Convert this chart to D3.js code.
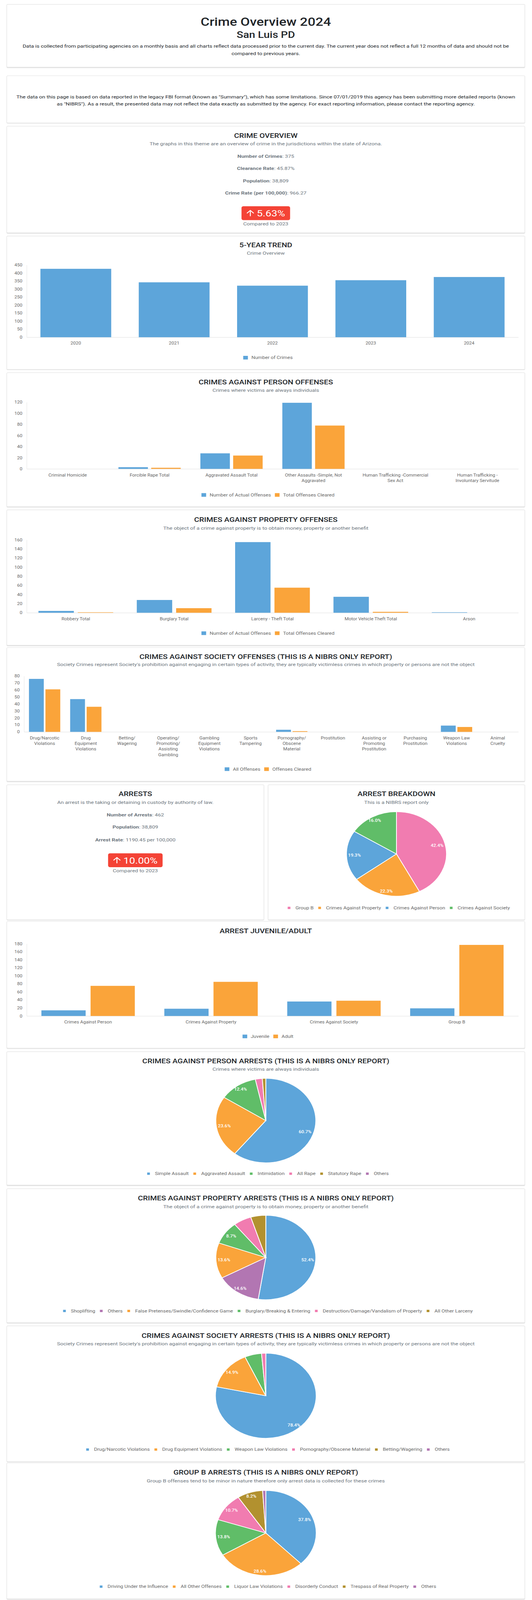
<!DOCTYPE html>
<html>
<head>
<meta charset="utf-8">
<title>Crime Overview 2024 - San Luis PD</title>
<script src="https://cdn.jsdelivr.net/npm/d3@7"></script>
<style>
  html, body { margin: 0; background: #fff; font-family: Roboto, "Open Sans", sans-serif; overflow: hidden; }
  #page { position: relative; width: 1362px; height: 4849px; overflow: hidden; transform-origin: 0 0; }
  .card { position: absolute; background: #fff; border: 1px solid #e2e2e2; border-radius: 3px;
          box-shadow: 0 1px 2px rgba(0,0,0,0.14); box-sizing: border-box; }
  svg { position: absolute; left: 0; top: 0; font-family: Roboto, sans-serif; }
</style>
</head>
<body>
<div id="page"></div>
<script>
// ---------- data ----------
const trendYears = ["2020", "2021", "2022", "2023", "2024"];
const trendCrimes = [426, 342, 321, 355, 375];

const clearanceRate = 45.87;
const population = 38809;

const personOffenseLabels = [
  ["Criminal Homicide"], ["Forcible Rape Total"], ["Aggravated Assault Total"],
  ["Other Assaults -Simple, Not", "Aggravated"], ["Human Trafficking -Commercial", "Sex Act"],
  ["Human Trafficking -", "Involuntary Servitude"]
];
const personActual = [0, 3, 28, 119, 0, 0];
const personCleared = [0, 2, 24, 78, 0, 0];

const propertyOffenseLabels = [
  ["Robbery Total"], ["Burglary Total"], ["Larceny - Theft Total"], ["Motor Vehicle Theft Total"], ["Arson"]
];
const propertyActual = [4, 28, 155, 35, 1];
const propertyCleared = [1, 10, 55, 2, 0];

const societyOffenseLabels = [
  ["Drug/Narcotic", "Violations"], ["Drug", "Equipment", "Violations"], ["Betting/", "Wagering"],
  ["Operating/", "Promoting/", "Assisting", "Gambling"], ["Gambling", "Equipment", "Violations"],
  ["Sports", "Tampering"], ["Pornography/", "Obscene", "Material"], ["Prostitution"],
  ["Assisting or", "Promoting", "Prostitution"], ["Purchasing", "Prostitution"],
  ["Weapon Law", "Violations"], ["Animal", "Cruelty"]
];
const societyAll = [76, 47, 0, 0, 0, 0, 3, 0, 0, 0, 9, 0];
const societyCleared = [61, 36, 0, 0, 0, 0, 1, 0, 0, 0, 7, 0];

const arrestsPrevYear = 420;
const breakdownLabels = ["Group B", "Crimes Against Property", "Crimes Against Person", "Crimes Against Society"];
const breakdownValues = [196, 103, 89, 74];

const ageGroups = ["Crimes Against Person", "Crimes Against Property", "Crimes Against Society", "Group B"];
const juvenileArrests = [14, 18, 36, 19];
const adultArrests = [75, 85, 38, 177];

const personArrestLabels = ["Simple Assault", "Aggravated Assault", "Intimidation", "All Rape", "Statutory Rape", "Others"];
const personArrestValues = [54, 21, 11, 2, 1, 0];

const propertyArrestLabels = ["Shoplifting", "Others", "False Pretenses/Swindle/Confidence Game",
  "Burglary/Breaking & Entering", "Destruction/Damage/Vandalism of Property", "All Other Larceny"];
const propertyArrestValues = [54, 15, 14, 9, 6, 5];

const societyArrestLabels = ["Drug/Narcotic Violations", "Drug Equipment Violations", "Weapon Law Violations",
  "Pornography/Obscene Material", "Betting/Wagering", "Others"];
const societyArrestValues = [58, 11, 4, 1, 0, 0];

const groupBLabels = ["Driving Under the Influence", "All Other Offenses", "Liquor Law Violations",
  "Disorderly Conduct", "Trespass of Real Property", "Others"];
const groupBValues = [74, 56, 27, 21, 16, 2];

// ---------- colours ----------
const BLUE = "#5DA5DA", ORANGE = "#FAA43A", GREEN = "#60BD68",
      PINK = "#F17CB0", OLIVE = "#B2912F", PURPLE = "#B276B2";
const TITLE = "#212529", MUTED = "#6c757d", AXIS = "#666";

// ---------- page & cards ----------
const PAGE_H = 4849;
const page = d3.select("#page");
// the browser window may be shorter than the full page; squeeze vertically so the whole page is photographed
const fitY = Math.min(1, window.innerHeight / PAGE_H);
page.style("transform", `scale(1, ${fitY})`);

const cards = [
  { top: 13, h: 191 }, { top: 229, h: 144 }, { top: 382, h: 324 }, { top: 715, h: 405 },
  { top: 1129, h: 407 }, { top: 1545, h: 411 }, { top: 1962, h: 406 },
  { top: 2378, h: 410, left: 17, w: 659 }, { top: 2378, h: 410, left: 686, w: 658 },
  { top: 2792, h: 385 }, { top: 3187, h: 405 }, { top: 3602, h: 407 }, { top: 4018, h: 412 },
  { top: 4433, h: 413 }
];
page.selectAll("div.card").data(cards).join("div")
  .attr("class", "card")
  .style("left", d => (d.left || 17) + "px")
  .style("width", d => (d.w || 1327) + "px")
  .style("top", d => d.top + "px")
  .style("height", d => d.h + "px");

const svg = page.append("svg").attr("width", 1362).attr("height", PAGE_H);

const measurer = svg.append("text").attr("x", 10).attr("y", 10).attr("opacity", 0);
function textWidth(str, size, weight) {
  measurer.attr("font-size", size).attr("font-weight", weight || 400).text(str);
  return measurer.node().getComputedTextLength();
}

function line(cx, y, str, size, weight, color) {
  return svg.append("text")
    .attr("x", cx).attr("y", y)
    .attr("text-anchor", "middle").attr("dominant-baseline", "central")
    .attr("font-size", size).attr("font-weight", weight).attr("fill", color)
    .text(str);
}

function heading(cx, yTitle, title, ySub, sub) {
  line(cx, yTitle, title, 20, 500, TITLE);
  if (sub) line(cx, ySub, sub, 14, 400, MUTED);
}

function statLine(cx, y, label, value) {
  const t = svg.append("text")
    .attr("x", cx).attr("y", y)
    .attr("text-anchor", "middle").attr("dominant-baseline", "central")
    .attr("font-size", 14).attr("fill", MUTED);
  t.append("tspan").attr("font-weight", 700).text(label);
  t.append("tspan").text(": " + value);
}

function badge(cx, cy, change) {
  const txt = (change * 100).toFixed(2) + "%";
  const tw = textWidth(txt, 27, 400);
  const bw = 13 + 20 + 6 + tw + 13;
  const x0 = cx - bw / 2;
  svg.append("rect").attr("x", x0).attr("y", cy - 21).attr("width", bw).attr("height", 42)
    .attr("rx", 5).attr("fill", "#f44336");
  const s = 1.2;
  svg.append("path")
    .attr("d", "M4 12l1.41 1.41L11 7.83V20h2V7.83l5.58 5.59L20 12l-8-8-8 8z")
    .attr("fill", "#fff")
    .attr("transform", `translate(${x0 + 13 - 4 * s},${cy - 10 - 4 * s}) scale(${s})`);
  svg.append("text").attr("x", x0 + 39).attr("y", cy + 1)
    .attr("dominant-baseline", "central").attr("font-size", 27).attr("fill", "#fff").text(txt);
  line(cx, cy + 32, "Compared to " + trendYears[3], 14, 400, MUTED);
}

function legend(names, colors, cx, cy, st) {
  const widths = names.map(n => textWidth(n, 13));
  const itemW = widths.map(w => st.textOff + w);
  const total = d3.sum(itemW) + st.gap * (names.length - 1);
  let xPos = cx - total / 2;
  const g = svg.append("g");
  names.forEach((n, i) => {
    g.append("rect").attr("x", xPos).attr("y", cy - st.bh / 2)
      .attr("width", st.bw).attr("height", st.bh).attr("fill", colors[i]);
    g.append("text").attr("x", xPos + st.textOff).attr("y", cy)
      .attr("dominant-baseline", "central").attr("font-size", 13).attr("fill", AXIS).text(n);
    xPos += itemW[i] + st.gap;
  });
}

// Grouped bar chart in the style of the source dashboard
function barChart(o) {
  const right = 1327;
  const y = d3.scaleLinear()
    .domain([0, d3.max(o.series, s => d3.max(s))])
    .nice(8)
    .range([o.y0, o.yTop]);
  const ticks = y.ticks(8);
  const labelW = d3.max(ticks, t => textWidth(String(t), 12));
  const left = 37 + labelW + 11;

  const x = d3.scaleBand().domain(d3.range(o.labels.length)).range([left, right]);
  const inner = d3.scaleBand().domain(d3.range(o.series.length))
    .range([0, x.bandwidth() * 0.8]).paddingInner(0.1).paddingOuter(0.05);

  const g = svg.append("g");

  g.append("g").attr("transform", `translate(${left},0)`)
    .call(d3.axisLeft(y).ticks(8).tickSize(0).tickSizeOuter(0).tickPadding(11))
    .attr("font-family", null).attr("font-size", 12)
    .call(a => a.select(".domain").attr("stroke", "#e3e3e3"))
    .call(a => a.selectAll("text").attr("fill", AXIS));

  g.append("g").attr("transform", `translate(0,${o.y0})`)
    .call(d3.axisBottom(x).tickSize(0).tickSizeOuter(0))
    .call(a => a.select(".domain").attr("stroke", "#dcdcdc"))
    .call(a => a.selectAll(".tick").remove());

  const labs = g.append("g").selectAll("text").data(o.labels).join("text")
    .attr("x", (d, i) => x(i) + x.bandwidth() / 2)
    .attr("y", o.y0 + 18.5)
    .attr("text-anchor", "middle").attr("font-size", 12).attr("fill", AXIS);
  labs.selectAll("tspan").data(d => d).join("tspan")
    .attr("x", function () { return this.parentNode.getAttribute("x"); })
    .attr("dy", (d, i) => i === 0 ? "0.35em" : 17)
    .text(d => d);

  o.series.forEach((s, si) => {
    g.append("g").selectAll("rect").data(s).join("rect")
      .attr("x", (d, i) => x(i) + x.bandwidth() * 0.1 + inner(si))
      .attr("width", inner.bandwidth())
      .attr("y", d => y(d))
      .attr("height", d => y(0) - y(d))
      .attr("fill", o.colors[si]);
  });

  const maxLines = d3.max(o.labels, d => d.length);
  legend(o.names, o.colors, 686, o.y0 + 62 + 17 * (maxLines - 1),
    { bw: 12, bh: 11, textOff: 21, gap: 10 });
}

function pieChart(o) {
  const total = d3.sum(o.values);
  const arcs = d3.pie().sort(null).value(d => d)(o.values);
  const arc = d3.arc().innerRadius(0).outerRadius(o.r);
  const g = svg.append("g").attr("transform", `translate(${o.cx},${o.cy})`);

  g.selectAll("path").data(arcs.filter(d => d.value > 0)).join("path")
    .attr("d", arc)
    .attr("fill", d => o.colors[d.index])
    .attr("stroke", "#fff").attr("stroke-width", 2);

  g.selectAll("text").data(arcs.filter(d => d.value / total >= 0.07)).join("text")
    .attr("text-anchor", "middle").attr("dominant-baseline", "central")
    .attr("font-size", 12).attr("font-weight", 500).attr("fill", "#fff")
    .each(function (d) {
      const a = (d.startAngle + d.endAngle) / 2;
      const dx = Math.sin(a), dy = -Math.cos(a);
      const label = (d.value / total * 100).toFixed(1) + "%";
      const w = textWidth(label, 12, 500) + 8, h = 22;
      const t = Math.min(w / 2 / Math.max(Math.abs(dx), 1e-6), h / 2 / Math.max(Math.abs(dy), 1e-6));
      const dist = o.r - t;
      d3.select(this).attr("x", dx * dist).attr("y", dy * dist).text(label);
    });

  legend(o.labels, o.colors, o.legendCx, o.legendY, { bw: 7, bh: 7, textOff: 20, gap: 12 });
}

const CX = 680.5;

// ---------- header ----------
line(CX, 66, "Crime Overview 2024", 35, 500, TITLE);
line(CX, 105, "San Luis PD", 28, 500, TITLE);
line(CX, 140, "Data is collected from participating agencies on a monthly basis and all charts reflect data processed prior to the current day. The current year does not reflect a full 12 months of data and should not be", 14, 400, TITLE);
line(CX, 162, "compared to previous years.", 14, 400, TITLE);

line(CX, 294, "The data on this page is based on data reported in the legacy FBI format (known as \"Summary\"), which has some limitations. Since 07/01/2019 this agency has been submitting more detailed reports (known", 14, 400, TITLE);
line(CX, 315, "as \"NIBRS\"). As a result, the presented data may not reflect the data exactly as submitted by the agency. For exact reporting information, please contact the reporting agency.", 14, 400, TITLE);

// ---------- crime overview ----------
const crimes = trendCrimes[4];
heading(CX, 412, "CRIME OVERVIEW", 436, "The graphs in this theme are an overview of crime in the jurisdictions within the state of Arizona.");
statLine(CX, 473, "Number of Crimes", crimes);
statLine(CX, 510, "Clearance Rate", clearanceRate.toFixed(2) + "%");
statLine(CX, 547, "Population", d3.format(",")(population));
statLine(CX, 584, "Crime Rate (per 100,000)", (crimes / population * 1e5).toFixed(2));
badge(CX, 646, trendCrimes[4] / trendCrimes[3] - 1);

// ---------- 5-year trend ----------
heading(CX, 743, "5-YEAR TREND", 767, "Crime Overview");
barChart({ labels: trendYears.map(d => [d]), series: [trendCrimes], names: ["Number of Crimes"],
  colors: [BLUE], y0: 1022, yTop: 803 });

// ---------- person offenses ----------
heading(CX, 1159, "CRIMES AGAINST PERSON OFFENSES", 1183, "Crimes where victims are always individuals");
barChart({ labels: personOffenseLabels, series: [personActual, personCleared],
  names: ["Number of Actual Offenses", "Total Offenses Cleared"], colors: [BLUE, ORANGE], y0: 1421, yTop: 1219 });

// ---------- property offenses ----------
heading(CX, 1575, "CRIMES AGAINST PROPERTY OFFENSES", 1600, "The object of a crime against property is to obtain money, property or another benefit");
barChart({ labels: propertyOffenseLabels, series: [propertyActual, propertyCleared],
  names: ["Number of Actual Offenses", "Total Offenses Cleared"], colors: [BLUE, ORANGE], y0: 1857, yTop: 1636 });

// ---------- society offenses ----------
heading(CX, 1991, "CRIMES AGAINST SOCIETY OFFENSES (THIS IS A NIBRS ONLY REPORT)", 2014,
  "Society Crimes represent Society's prohibition against engaging in certain types of activity, they are typically victimless crimes in which property or persons are not the object");
barChart({ labels: societyOffenseLabels, series: [societyAll, societyCleared],
  names: ["All Offenses", "Offenses Cleared"], colors: [BLUE, ORANGE], y0: 2218, yTop: 2049 });

// ---------- arrests ----------
const arrests = d3.sum(breakdownValues);
const AX = 346.5, BX = 1015;
heading(AX, 2406, "ARRESTS", 2432, "An arrest is the taking or detaining in custody by authority of law.");
statLine(AX, 2469, "Number of Arrests", arrests);
statLine(AX, 2506, "Population", d3.format(",")(population));
statLine(AX, 2544, "Arrest Rate", (arrests / population * 1e5).toFixed(2) + " per 100,000");
badge(AX, 2607, arrests / arrestsPrevYear - 1);

heading(BX, 2406, "ARREST BREAKDOWN", 2432, "This is a NIBRS report only");
pieChart({ cx: BX, cy: 2588, r: 128, labels: breakdownLabels, values: breakdownValues,
  colors: [PINK, ORANGE, BLUE, GREEN], legendCx: BX + 6, legendY: 2751.5 });

// ---------- juvenile / adult ----------
heading(CX, 2822, "ARREST JUVENILE/ADULT");
barChart({ labels: ageGroups.map(d => [d]), series: [juvenileArrests, adultArrests],
  names: ["Juvenile", "Adult"], colors: [BLUE, ORANGE], y0: 3079, yTop: 2860 });

// ---------- arrest pies ----------
heading(CX, 3216, "CRIMES AGAINST PERSON ARRESTS (THIS IS A NIBRS ONLY REPORT)", 3240, "Crimes where victims are always individuals");
pieChart({ cx: CX, cy: 3396, r: 128, labels: personArrestLabels, values: personArrestValues,
  colors: [BLUE, ORANGE, GREEN, PINK, OLIVE, PURPLE], legendCx: 686, legendY: 3557 });

heading(CX, 3632, "CRIMES AGAINST PROPERTY ARRESTS (THIS IS A NIBRS ONLY REPORT)", 3657, "The object of a crime against property is to obtain money, property or another benefit");
pieChart({ cx: CX, cy: 3811, r: 128, labels: propertyArrestLabels, values: propertyArrestValues,
  colors: [BLUE, PURPLE, ORANGE, GREEN, PINK, OLIVE], legendCx: 686, legendY: 3973 });

heading(CX, 4048, "CRIMES AGAINST SOCIETY ARRESTS (THIS IS A NIBRS ONLY REPORT)", 4072,
  "Society Crimes represent Society's prohibition against engaging in certain types of activity, they are typically victimless crimes in which property or persons are not the object");
pieChart({ cx: CX, cy: 4230, r: 129, labels: societyArrestLabels, values: societyArrestValues,
  colors: [BLUE, ORANGE, GREEN, PINK, OLIVE, PURPLE], legendCx: 686, legendY: 4393 });

heading(CX, 4463, "GROUP B ARRESTS (THIS IS A NIBRS ONLY REPORT)", 4488, "Group B offenses tend to be minor in nature therefore only arrest data is collected for these crimes");
pieChart({ cx: CX, cy: 4646, r: 129, labels: groupBLabels, values: groupBValues,
  colors: [BLUE, ORANGE, GREEN, PINK, OLIVE, PURPLE], legendCx: 686, legendY: 4808.5 });

measurer.remove();
</script>
</body>
</html>
